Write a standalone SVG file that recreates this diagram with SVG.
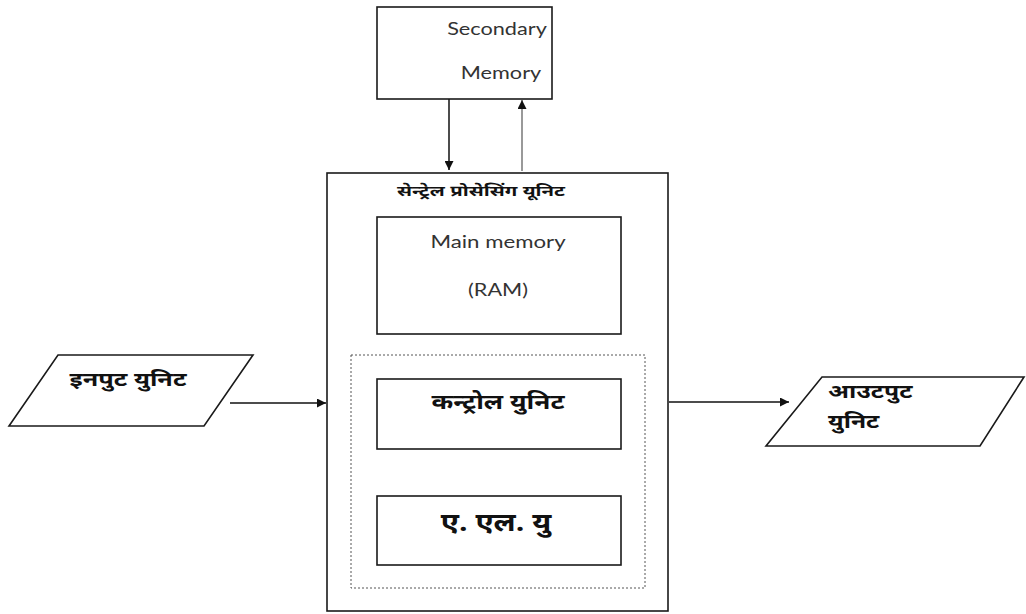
<svg xmlns="http://www.w3.org/2000/svg" width="1026" height="614" viewBox="0 0 1026 614">
<style>
.box{fill:#fff;stroke:#1a1a1a;stroke-width:1.6}
.dot{fill:none;stroke:#555;stroke-width:1;stroke-dasharray:2 2}
.en{font-family:Lato,"Open Sans","Liberation Sans",sans-serif;font-size:17.5px;fill:#333;text-anchor:middle}
.hi{font-family:"Noto Sans Devanagari","Noto Sans",sans-serif;font-weight:bold;fill:#111;text-anchor:middle}
.ln{stroke:#111;stroke-width:1.5;fill:none}
.dd{stroke:#222;stroke-width:1.5;fill:none;stroke-dasharray:6 3 2 3}
</style>
<defs>
<marker id="ah" viewBox="0 0 10 10" refX="10" refY="5" markerWidth="7" markerHeight="7" orient="auto" markerUnits="userSpaceOnUse">
<path d="M0,0 L10,5 L0,10 z" fill="#111"/>
</marker>
<marker id="ah2" viewBox="0 0 10 10" refX="10" refY="5" markerWidth="9" markerHeight="9" orient="auto" markerUnits="userSpaceOnUse">
<path d="M0,0 L10,5 L0,10 z" fill="#111"/>
</marker>
</defs>
<rect width="1026" height="614" fill="#fff"/>
<g id="connectors">
<line class="ln" x1="449" y1="99" x2="449" y2="170" marker-end="url(#ah2)"/>
<line class="ln" x1="522" y1="171" x2="522" y2="100" style="stroke:#777" marker-end="url(#ah2)"/>
<line class="dd" x1="449" y1="335" x2="449" y2="378" marker-end="url(#ah)"/>
<line class="dd" x1="522" y1="378" x2="522" y2="335" marker-end="url(#ah)"/>
<line class="dd" x1="449" y1="450" x2="449" y2="495" marker-end="url(#ah)"/>
<line class="dd" x1="522" y1="495" x2="522" y2="450" marker-end="url(#ah)"/>
<line class="ln" x1="230" y1="403" x2="326" y2="403" marker-end="url(#ah2)"/>
<line class="ln" x1="669" y1="402" x2="789" y2="402" marker-end="url(#ah2)"/>
</g>
<g id="secondary-memory">
<rect class="box" x="377" y="7" width="175" height="92"/>
<text class="en" transform="translate(497,35) scale(1.24,1)">Secondary</text>
<text class="en" transform="translate(501,79) scale(1.24,1)">Memory</text>
</g>
<g id="cpu">
<rect class="box" x="327" y="173" width="341" height="438"/>
<text class="hi" font-size="15" transform="translate(481,196) scale(1.36,1)">सेन्ट्रेल प्रोसेसिंग यूनिट</text>
<rect class="dot" x="351" y="355" width="294" height="233"/>
</g>
<g id="main-memory">
<rect class="box" x="377" y="217" width="244" height="117"/>
<text class="en" transform="translate(498,248) scale(1.27,1)">Main memory</text>
<text class="en" transform="translate(498,296) scale(1.24,1)">(RAM)</text>
</g>
<g id="control-unit">
<rect class="box" x="377" y="379" width="244" height="70"/>
<text class="hi" font-size="20" transform="translate(498,409) scale(1.31,1)">कन्ट्रोल युनिट</text>
</g>
<g id="alu">
<rect class="box" x="377" y="496" width="244" height="69"/>
<text class="hi" font-size="25" transform="translate(496,531) scale(1.2,1)">ए. एल. यु</text>
</g>
<g id="input-unit">
<polygon class="box" points="58,355 253,355 204,426 9,426"/>
<text class="hi" font-size="19" transform="translate(128,386) scale(1.33,1)">इनपुट युनिट</text>
</g>
<g id="output-unit">
<polygon class="box" points="822,377 1024,377 980,446 766,446"/>
<text class="hi" font-size="19" transform="translate(828,398) scale(1.3,1)" style="text-anchor:start">आउटपुट</text>
<text class="hi" font-size="19" transform="translate(828,428) scale(1.3,1)" style="text-anchor:start">युनिट</text>
</g>
</svg>
